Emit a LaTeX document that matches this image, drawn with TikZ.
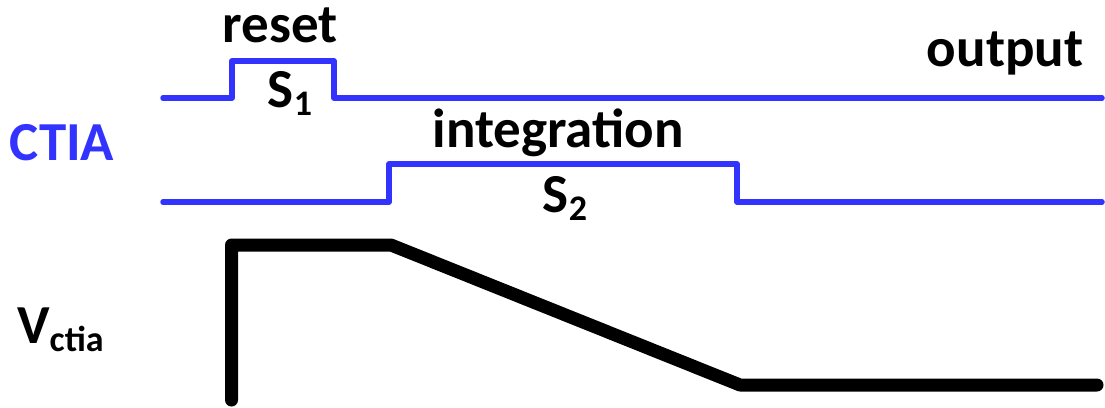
\documentclass[tikz,border=0pt]{standalone}
\usepackage{fontspec}
\setmainfont{Carlito}
\definecolor{wave}{RGB}{51,51,255}
\begin{document}
\begin{tikzpicture}[x=1pt,y=-1pt,
  lbl/.style={inner sep=0pt,anchor=base,font=\fontsize{55}{60}\selectfont\bfseries},
  bluewave/.style={draw=wave,line width=5.5pt,line join=round,line cap=round},
  blackwave/.style={draw=black,line width=13pt,line join=round,line cap=round}]
\newcommand{\sbs}[1]{\raisebox{-8pt}{\fontsize{36}{36}\selectfont #1}}
\useasboundingbox (0,0) rectangle (1105,407);
% switch S1 (reset)
\draw[bluewave] (163,98) -- (232,98) -- (232,61) -- (334,61) -- (334,98) -- (1102,98);
% switch S2 (integration)
\draw[bluewave] (163,202) -- (389,202) -- (389,164) -- (737,164) -- (737,202) -- (1102,202);
% integrator output voltage
\draw[blackwave] (231.5,400) -- (231.5,245) -- (391,245) -- (740,385) -- (1097,385);
% labels
\node[lbl] (reset) at (280,42) {reset};
\node[lbl] (s1) at (290,107) {S\sbs{1}};
\node[lbl] (out) at (1005,66) {output};
\node[lbl,text=wave] (ctia) at (62,160) {CTIA};
\node[lbl] (integ) at (558,147) {integration};
\node[lbl] (s2) at (565,212) {S\sbs{2}};
\node[lbl,anchor=base west] (vctia) at (17,343) {V\sbs{ctia}};
\end{tikzpicture}
\end{document}
